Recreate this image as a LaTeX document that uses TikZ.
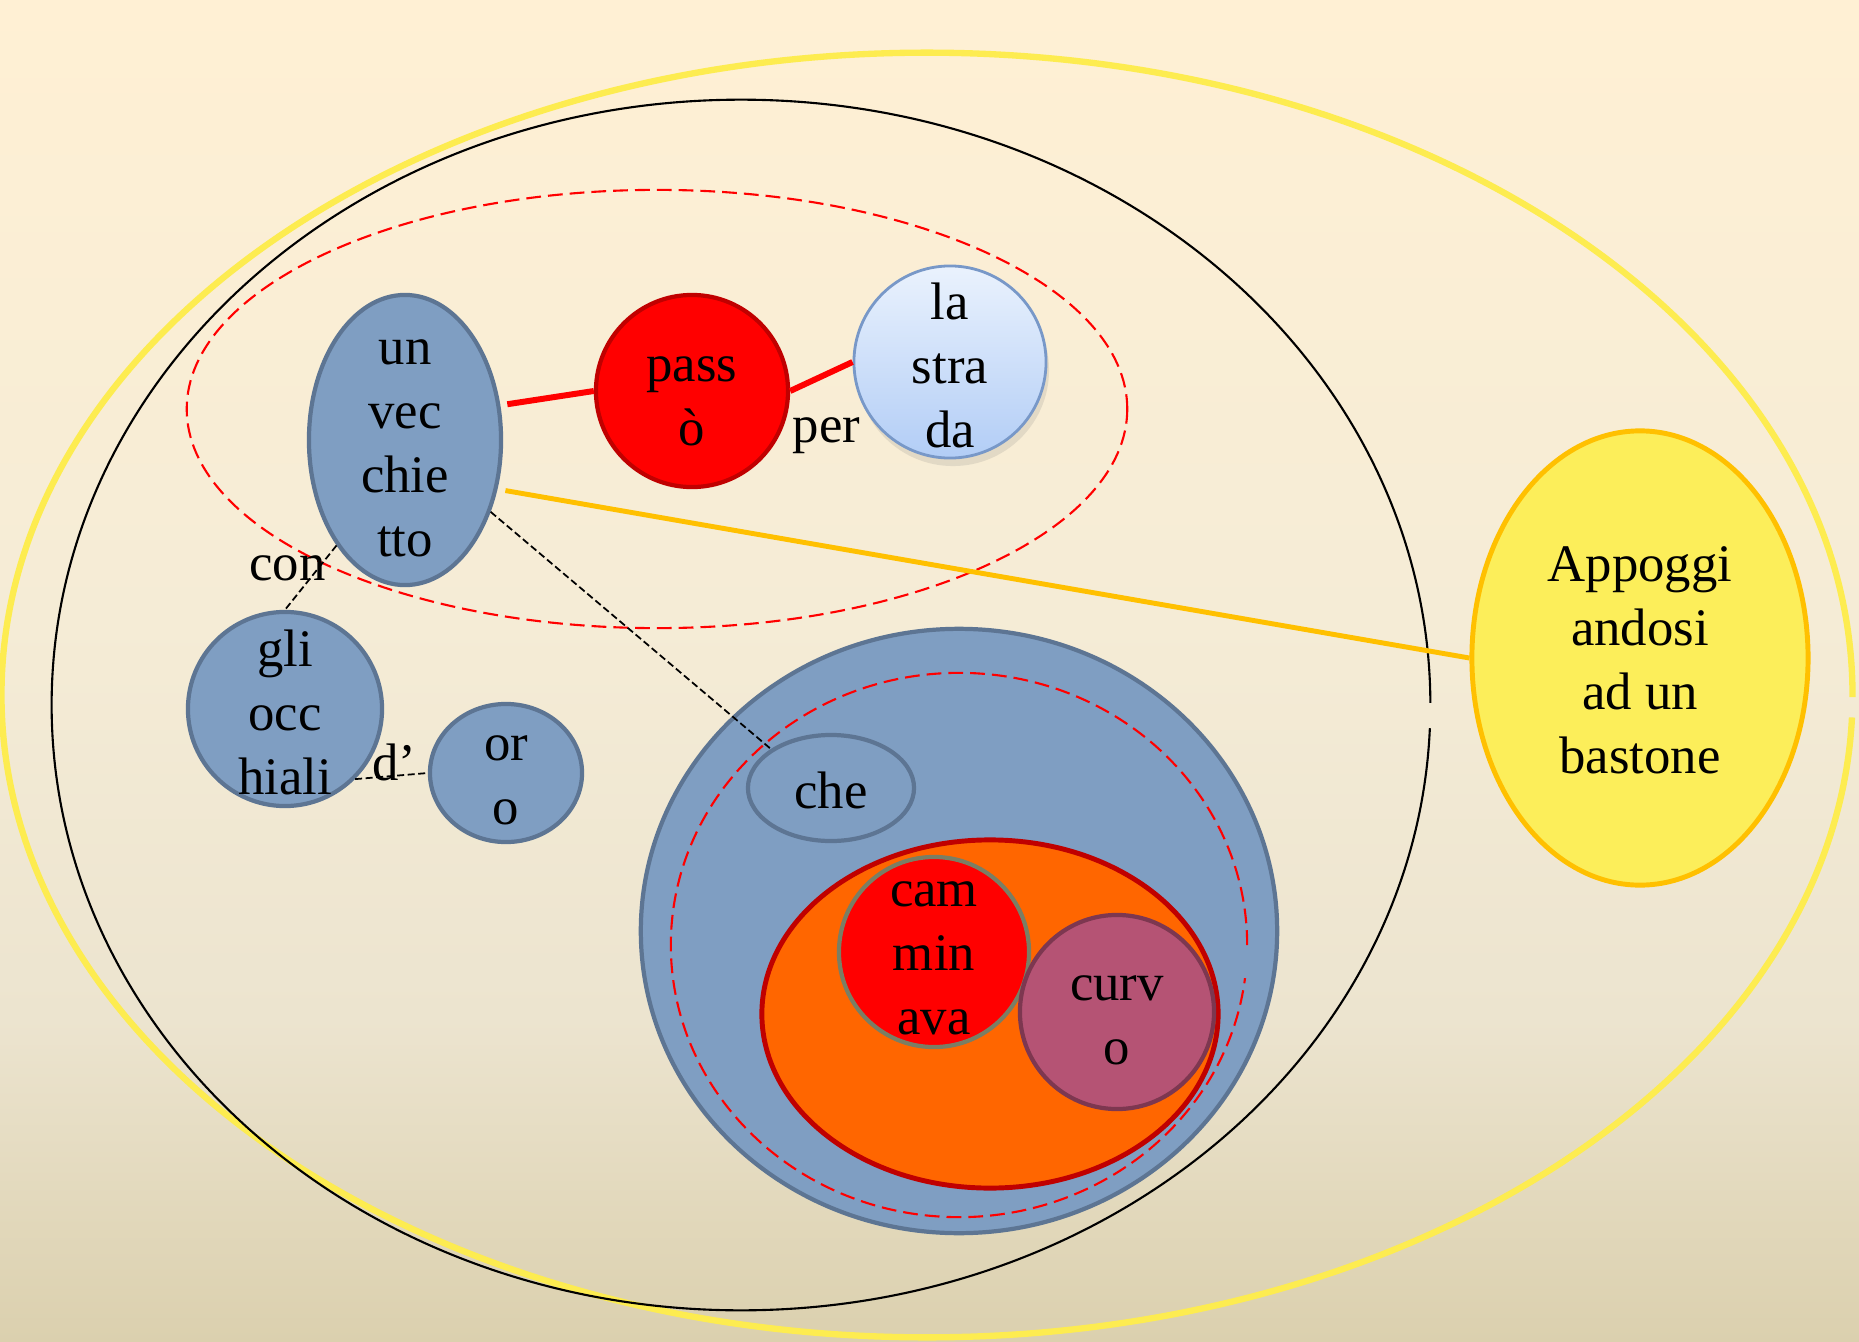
\documentclass[tikz,border=0pt]{standalone}
\usepackage{fontspec}
\setmainfont{Liberation Serif}
\usepackage{xcolor}
\usepackage{tikz}
\usetikzlibrary{positioning,shapes.geometric,shadows}

\definecolor{papertop}{RGB}{255,240,212}
\definecolor{papermid}{RGB}{245,236,214}
\definecolor{paperlow}{RGB}{236,228,207}
\definecolor{paperbot}{RGB}{219,208,174}
\definecolor{slatefill}{RGB}{127,158,194}
\definecolor{slateline}{RGB}{93,117,147}
\definecolor{darkred}{RGB}{192,0,0}
\definecolor{skytop}{RGB}{234,242,253}
\definecolor{skybot}{RGB}{178,205,246}
\definecolor{skyline}{RGB}{120,152,200}
\definecolor{orangefill}{RGB}{255,102,0}
\definecolor{oliveline}{RGB}{122,126,100}
\definecolor{plumfill}{RGB}{181,83,116}
\definecolor{plumline}{RGB}{125,55,80}
\definecolor{lemonfill}{RGB}{252,238,90}
\definecolor{gold}{RGB}{255,192,0}
\definecolor{ringyellow}{RGB}{253,236,80}

\pgfdeclareverticalshading{paper}{100bp}{color(0bp)=(paperbot); color(25bp)=(paperbot); color(37bp)=(paperlow); color(52bp)=(papermid); color(75bp)=(papertop); color(100bp)=(papertop)}

\begin{document}
\begin{tikzpicture}[x=0.01cm, y=-0.01cm, align=center,
    font=\fontsize{15}{18.2}\selectfont,
    blob/.style={ellipse, fill=slatefill, draw=slateline, line width=1.2pt},
    redblob/.style={circle, fill=red, draw=darkred, line width=1.2pt},
    skyblob/.style={circle, top color=skytop, bottom color=skybot, draw=skyline, line width=0.8pt,
        drop shadow={shadow xshift=0.3mm, shadow yshift=-0.8mm, opacity=0.18}},
    redlink/.style={red, line width=1.7pt},
    goldlink/.style={gold, line width=1.4pt},
    thinlink/.style={black, line width=0.5pt, dash pattern=on 2pt off 1pt},
    reddash/.style={red, line width=0.6pt, dash pattern=on 4.2pt off 2pt}]
    \useasboundingbox (0,0) rectangle (1859,1342);
    \shade[shading=paper] (0,0) rectangle (1859,1342);

    \draw[ringyellow, line width=1.8pt] (927,695) ++(-0.2:9.25cm and 6.42cm)
        arc[start angle=-0.2, end angle=358, x radius=9.25cm, y radius=6.42cm];
    \draw[black, line width=0.6pt] (741,705) ++(0.2:6.89cm and 6.05cm)
        arc[start angle=0.2, end angle=357.8, x radius=6.89cm, y radius=6.05cm];
    \draw[reddash] (657,409) ellipse[x radius=4.7cm, y radius=2.19cm];

    \node [blob, minimum width=1.92cm, minimum height=2.9cm,
        label={[yshift=-2.4pt]center:{un\\vec\\chie\\tto}}] (un_vecchietto) at (405,440) {};
    \node [redblob, minimum size=1.92cm,
        label={[yshift=-3pt]center:{pass\\ò}}] (passo) at (692,391) {};
    \node [skyblob, minimum size=1.92cm,
        label={[yshift=-1pt]center:{la\\stra\\da}}] (la_strada) at (950,362) {};
    \node [blob, circle, minimum size=1.94cm,
        label={[yshift=-1pt]center:{gli\\occ\\hiali}}] (gli_occhiali) at (285,709) {};
    \node [blob, minimum width=1.52cm, minimum height=1.38cm,
        label={[yshift=-2pt]center:{or\\o}}] (oro) at (506,773) {};

    \node [blob, minimum width=6.36cm, minimum height=6.04cm] (che_clause) at (959,931) {};
    \draw[reddash] (959,945) ++(0:2.88cm and 2.72cm)
        arc[start angle=0, end angle=353, x radius=2.88cm, y radius=2.72cm];
    \node [blob, minimum width=1.66cm, minimum height=1.06cm,
        label={[yshift=-0.7pt]center:che}] (che) at (831,788) {};
    \node [ellipse, fill=orangefill, draw=darkred, line width=1.4pt, minimum width=4.56cm, minimum height=3.48cm] (verb_group) at (990,1014) {};
    \node [redblob, draw=oliveline, minimum size=1.9cm,
        label={[yshift=-1.7pt]center:{cam\\min\\ava}}] (camminava) at (934,952) {};
    \node [circle, fill=plumfill, draw=plumline, line width=1.2pt, minimum size=1.94cm,
        label={[yshift=-2.4pt]center:{curv\\o}}] (curvo) at (1117,1012) {};

    \node [ellipse, fill=lemonfill, draw=gold, line width=1.4pt, minimum width=3.36cm, minimum height=4.54cm,
        label={[yshift=-0.7pt]center:{Appoggi\\andosi\\ad un\\bastone}}] (appoggiandosi) at (1640,658) {};

    \draw[redlink, shorten <=0.7mm] (un_vecchietto.20) -- (passo.west);
    \draw[redlink] (passo.east) -- node[below=2.6mm, text=black, xshift=0.5mm] {per} (la_strada.west);
    \draw[goldlink, shorten <=0.8mm] (un_vecchietto.-28) -- (appoggiandosi.west);
    \draw[thinlink] (un_vecchietto.-40) -- (che.147);
    \draw[thinlink] (un_vecchietto.-123) -- node[pos=.35, left, inner sep=0pt, xshift=0.8mm] {con} (gli_occhiali.north);
    \draw[thinlink] (gli_occhiali.-45) -- node[above, inner sep=0pt, xshift=0.3mm, yshift=-0.6mm] {d’} (oro.west);
\end{tikzpicture}
\end{document}
